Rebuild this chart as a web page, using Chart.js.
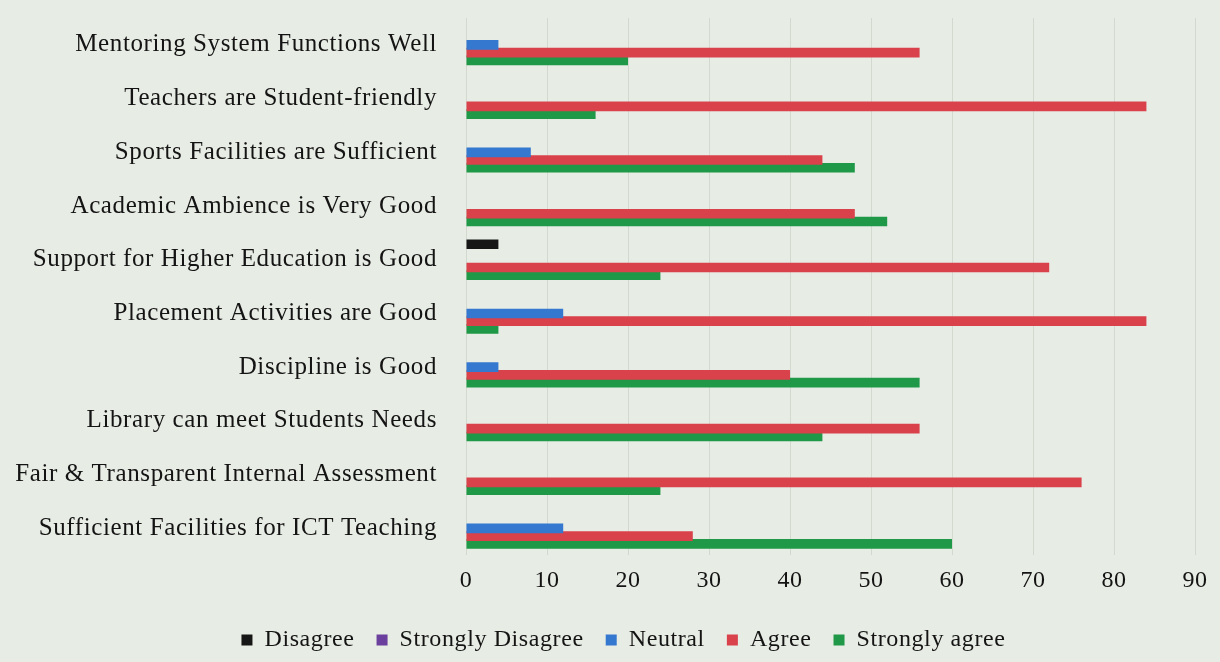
<!DOCTYPE html>
<html>
<head>
<meta charset="utf-8">
<script src="https://cdn.jsdelivr.net/npm/chart.js@4/dist/chart.umd.min.js"></script>
<style>
  html, body { margin: 0; padding: 0; background: #e7ece4; }
  #wrap { width: 1220px; height: 662px; }
</style>
</head>
<body>
<div id="wrap"><canvas id="chartSurvey"></canvas></div>
<script>
const categories = [
  'Mentoring System Functions Well',
  'Teachers are Student-friendly',
  'Sports Facilities are Sufficient',
  'Academic Ambience is Very Good',
  'Support for Higher Education is Good',
  'Placement Activities are Good',
  'Discipline is Good',
  'Library can meet Students Needs',
  'Fair & Transparent Internal Assessment',
  'Sufficient Facilities for ICT Teaching'
];
const disagree         = [0, 0, 0, 0, 4, 0, 0, 0, 0, 0];
const stronglyDisagree = [0, 0, 0, 0, 0, 0, 0, 0, 0, 0];
const neutral          = [4, 0, 8, 0, 0, 12, 4, 0, 0, 12];
const agree            = [56, 84, 44, 48, 72, 84, 40, 56, 76, 28];
const stronglyAgree    = [20, 16, 48, 52, 24, 4, 56, 44, 24, 60];
const xTicks = [0, 10, 20, 30, 40, 50, 60, 70, 80, 90];

const serif = 'Liberation Serif, "Times New Roman", serif';
Chart.defaults.font.family = serif;
Chart.defaults.color = '#141414';

// the printed text is a bit wider than Times, spread letters a little
// and push the legend a bit to the right like in the original
const tweaks = {
  id: 'tweaks',
  beforeLayout(chart) { chart.ctx.letterSpacing = '0.6px'; },
  afterLayout(chart) {
    chart.legend.left += 26;
    chart.legend.right += 26;
  },
  beforeDraw(chart) { chart.ctx.letterSpacing = '0.6px'; }
};

// Excel-like overlapping bars
function serie(label, data, color) {
  return {
    label: label,
    data: data,
    backgroundColor: color,
    borderWidth: 0,
    categoryPercentage: 0.72,
    barPercentage: 1.25
  };
}

new Chart(document.getElementById('chartSurvey').getContext('2d'), {
  type: 'bar',
  data: {
    labels: categories,
    datasets: [
      serie('Disagree', disagree, '#161616'),
      serie('Strongly Disagree', stronglyDisagree, '#6a3f9e'),
      serie('Neutral', neutral, '#3478d0'),
      serie('Agree', agree, '#d9424b'),
      serie('Strongly agree', stronglyAgree, '#1f9947')
    ]
  },
  plugins: [tweaks],
  options: {
    indexAxis: 'y',
    responsive: true,
    maintainAspectRatio: false,
    animation: false,
    layout: { padding: { top: 18, right: 25, left: 0, bottom: 0 } },
    plugins: {
      legend: {
        position: 'bottom',
        labels: {
          font: { size: 24 },
          boxWidth: 11,
          boxHeight: 11,
          padding: 22
        }
      },
      tooltip: { enabled: false }
    },
    scales: {
      x: {
        min: 0,
        max: 90,
        afterBuildTicks: function(axis) {
          axis.ticks = xTicks.map(v => ({ value: v }));
        },
        ticks: { font: { size: 24 }, padding: 11 },
        grid: { color: 'rgba(150, 160, 145, 0.25)', drawTicks: false },
        border: { display: false }
      },
      y: {
        afterFit: function(scale) {
          scale.width = 466;
          scale.paddingTop = 0;
          scale.paddingBottom = 0;
        },
        ticks: { font: { size: 25 }, padding: 21, autoSkip: false },
        grid: { display: false },
        border: { display: false }
      }
    }
  }
});
</script>
</body>
</html>
